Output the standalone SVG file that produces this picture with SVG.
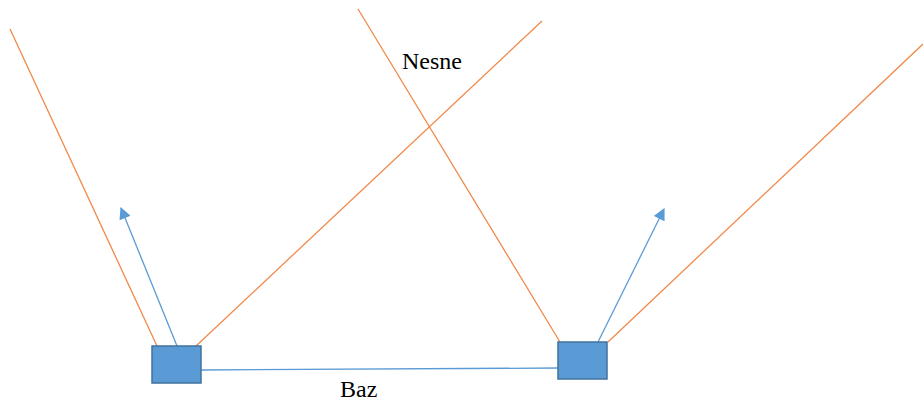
<svg xmlns="http://www.w3.org/2000/svg" width="923" height="406" viewBox="0 0 923 406">
<style>
.ray{stroke:#F0894A;stroke-width:1.3;fill:none}
.dir{stroke:#5B9BD5;stroke-width:1.3;fill:none}
.cam{fill:#5B9BD5;stroke:#41719C;stroke-width:1.5}
.lbl{font-family:'Liberation Serif','Times New Roman',serif;font-size:24px;fill:#000}
</style>
<defs>
<marker id="ah" viewBox="0 0 10 10" refX="9" refY="5" markerWidth="13" markerHeight="12" markerUnits="userSpaceOnUse" orient="auto">
<path d="M0,0 L10,5 L0,10 z" fill="#5B9BD5"/>
</marker>
</defs>
<rect width="923" height="406" fill="#fff"/>
<g id="connectors">
<line class="ray" x1="10" y1="29" x2="157" y2="346"/>
<line class="ray" x1="196" y1="346" x2="542" y2="21"/>
<line class="ray" x1="358" y1="9" x2="560" y2="342"/>
<line class="ray" x1="608" y1="342" x2="923" y2="44"/>
<line class="dir" x1="177" y1="346" x2="121" y2="208" marker-end="url(#ah)"/>
<line class="dir" x1="598" y1="342" x2="664" y2="209" marker-end="url(#ah)"/>
<line class="dir" x1="201" y1="370" x2="558" y2="368"/>
</g>
<g id="camera-left"><rect class="cam" x="152" y="346" width="49" height="37"/></g>
<g id="camera-right"><rect class="cam" x="558" y="342" width="49" height="37"/></g>
<g id="label-nesne"><text class="lbl" x="402" y="69">Nesne</text></g>
<g id="label-baz"><text class="lbl" x="340" y="397">Baz</text></g>
</svg>
